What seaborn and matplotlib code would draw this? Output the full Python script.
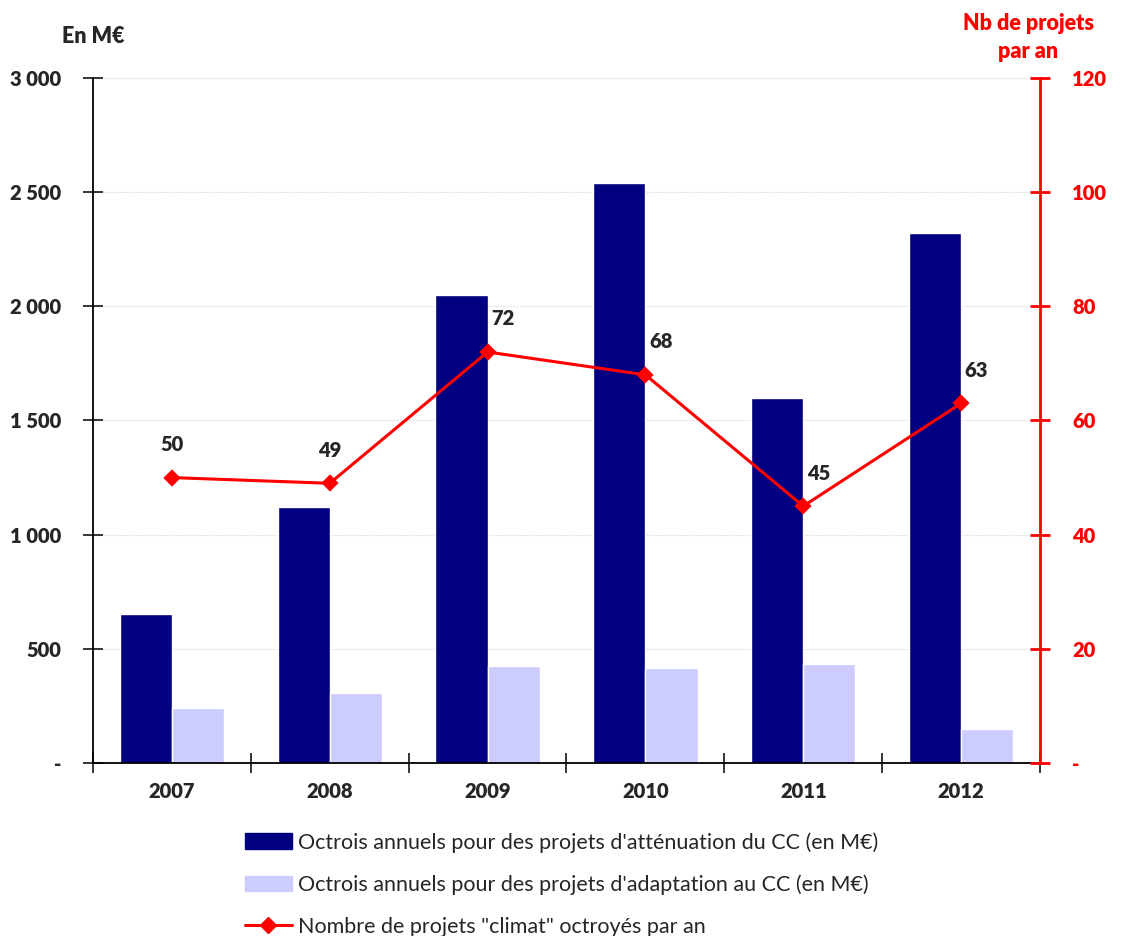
import numpy as np
import pandas as pd
import matplotlib
matplotlib.use('Agg')
import matplotlib.pyplot as plt
import seaborn as sns
from matplotlib.patches import Patch
from matplotlib.lines import Line2D
from matplotlib.ticker import FuncFormatter, FixedLocator

# données
annees = ['2007', '2008', '2009', '2010', '2011', '2012']
attenuation = [652, 1120, 2050, 2540, 1598, 2320]
adaptation = [241, 306, 425, 416, 433, 149]
nb_projets = [50, 49, 72, 68, 45, 63]

lab_att = "Octrois annuels pour des projets d'atténuation du CC (en M€)"
lab_ada = "Octrois annuels pour des projets d'adaptation au CC (en M€)"
lab_nb = 'Nombre de projets "climat" octroyés par an'

df = pd.DataFrame({
    'annee': annees * 2,
    'montant': attenuation + adaptation,
    'type': [lab_att] * len(annees) + [lab_ada] * len(annees),
})
df_nb = pd.DataFrame({'annee': annees, 'nb': nb_projets})

sns.set_style('white')
plt.rcParams['font.family'] = ['Lato', 'DejaVu Sans']

c_att = '#000080'
c_ada = '#CCCCFF'
c_red = '#FF0000'
fs = 14.5

fig = plt.figure(figsize=(11.24, 9.36), dpi=100)
ax = fig.add_axes([0.0827, 0.1848, 0.8426, 0.7319])

sns.barplot(data=df, x='annee', y='montant', hue='type',
            palette=[c_att, c_ada], saturation=1, width=0.66,
            edgecolor='white', linewidth=1, ax=ax, legend=False, zorder=2)

ax.set_ylim(0, 3000)
ax.set_yticks(np.arange(0, 3001, 500))
ax.yaxis.set_major_formatter(FuncFormatter(
    lambda v, p: '-' if v == 0 else f'{int(v):,}'.replace(',', ' ')))
ax.grid(axis='y', color='#d9d9d9', linestyle=(0, (1, 1)), linewidth=0.8, zorder=0)
ax.set_axisbelow(True)
ax.set_xlim(-0.5, 5.5)
ax.set_xlabel('')
ax.set_ylabel('')

for s in ['top', 'right']:
    ax.spines[s].set_visible(False)
ax.spines['left'].set_color('black')
ax.spines['bottom'].set_color('black')
ax.spines['left'].set_linewidth(1.3)
ax.spines['bottom'].set_linewidth(1.3)

ax.tick_params(axis='y', direction='inout', length=14, width=1.3,
               labelsize=fs, pad=16, left=True)
for t in ax.get_yticklabels():
    t.set_fontweight('heavy')
ax.xaxis.set_minor_locator(FixedLocator(np.arange(-0.5, 6, 1)))
ax.tick_params(axis='x', which='major', length=0, labelsize=fs, pad=14)
ax.tick_params(axis='x', which='minor', direction='inout', length=14,
               width=1.3, bottom=True)
for t in ax.get_xticklabels():
    t.set_fontweight('heavy')

# axe secondaire : nombre de projets
ax2 = ax.twinx()
sns.pointplot(data=df_nb, x='annee', y='nb', color=c_red, markers='D',
              markersize=7, linewidth=2.2, ax=ax2, zorder=5)
ax2.set_ylim(0, 120)
ax2.set_xlim(-0.5, 5.5)
ax2.set_yticks(np.arange(0, 121, 20))
ax2.yaxis.set_major_formatter(FuncFormatter(
    lambda v, p: '-' if v == 0 else f'{int(v)}'))
ax2.set_ylabel('')
ax2.set_xlabel('')
for s in ['top', 'left', 'bottom']:
    ax2.spines[s].set_visible(False)
ax2.spines['right'].set_color(c_red)
ax2.spines['right'].set_linewidth(2)
ax2.tick_params(axis='y', direction='inout', length=14, width=2,
                colors=c_red, labelsize=fs, pad=16, right=True)
for t in ax2.get_yticklabels():
    t.set_fontweight('heavy')

decal = [(0, 17), (0, 17), (11, 17), (11, 17), (11, 17), (11, 17)]
for i, v in enumerate(nb_projets):
    ax2.annotate(str(v), (i, v), xytext=decal[i], textcoords='offset points',
                 ha='center', va='bottom', fontsize=fs, fontweight='heavy')

fig.text(0.055, 0.961, 'En M€', fontsize=15.5, fontweight='heavy', ha='left', va='center')
fig.text(0.915, 0.96, 'Nb de projets\npar an', fontsize=15.5, fontweight='heavy',
         color=c_red, ha='center', va='center', linespacing=1.45)

handles = [
    Patch(facecolor=c_att, edgecolor=c_att),
    Patch(facecolor=c_ada, edgecolor=c_ada),
    Line2D([0], [0], color=c_red, marker='D', markersize=8, linewidth=2.2),
]
fig.legend(handles, [lab_att, lab_ada, lab_nb], loc='upper left',
           bbox_to_anchor=(0.21, 0.12), frameon=False, fontsize=15.5,
           handlelength=2.2, handleheight=0.75, labelspacing=1.0,
           handletextpad=0.3, borderaxespad=0)

fig.savefig('out.png', dpi=100)
